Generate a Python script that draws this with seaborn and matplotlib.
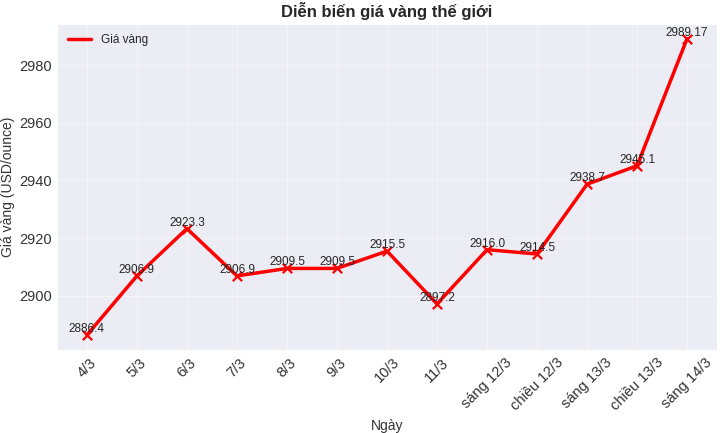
import matplotlib
matplotlib.use('Agg')
import matplotlib.pyplot as plt
import seaborn as sns
import pandas as pd

ngay = ['4/3', '5/3', '6/3', '7/3', '8/3', '9/3', '10/3', '11/3',
        'sáng 12/3', 'chiều 12/3', 'sáng 13/3', 'chiều 13/3', 'sáng 14/3']
gia_vang = [2886.4, 2906.9, 2923.3, 2906.9, 2909.5, 2909.5, 2915.5, 2897.2,
            2916.0, 2914.5, 2938.7, 2945.1, 2989.17]

sns.set_style('darkgrid')
plt.rcParams['font.family'] = ['Liberation Sans', 'DejaVu Sans']

df = pd.DataFrame({'pos': range(len(ngay)), 'gia': gia_vang})

fig, ax = plt.subplots(figsize=(7.2, 4.33), dpi=100)
ax.set_facecolor('#ececf4')
sns.lineplot(data=df, x='pos', y='gia', ax=ax, color='red', linewidth=2.5,
             label='Giá vàng')
sns.scatterplot(data=df, x='pos', y='gia', ax=ax, color='red', marker='x',
                s=45, linewidth=1.6, zorder=3)

for i, v in enumerate(gia_vang):
    ax.text(i, v, str(v), ha='center', va='bottom', fontsize=8.5, color='#262626')

ax.grid(True, color='white', alpha=0.45)
ax.set_xticks(range(len(ngay)))
ax.set_xticklabels(ngay, rotation=45, fontsize=10.5, color='#333333')
ax.tick_params(axis='y', labelsize=10.5, labelcolor='#333333', length=0, pad=3.5)
ax.tick_params(axis='x', length=0, pad=4)
ax.set_title('Diễn biến giá vàng thế giới', fontsize=12, fontweight='bold',
             color='#262626', pad=5)
ax.set_xlabel('Ngày', fontsize=10, color='#333333', labelpad=4)
ax.set_ylabel('Giá vàng (USD/ounce)', fontsize=10, color='#333333', labelpad=3)
ax.legend(loc='upper left', fontsize=8.5, frameon=False)

plt.subplots_adjust(left=0.079, right=0.996, top=0.945, bottom=0.192)
plt.savefig('out.png', dpi=100)
